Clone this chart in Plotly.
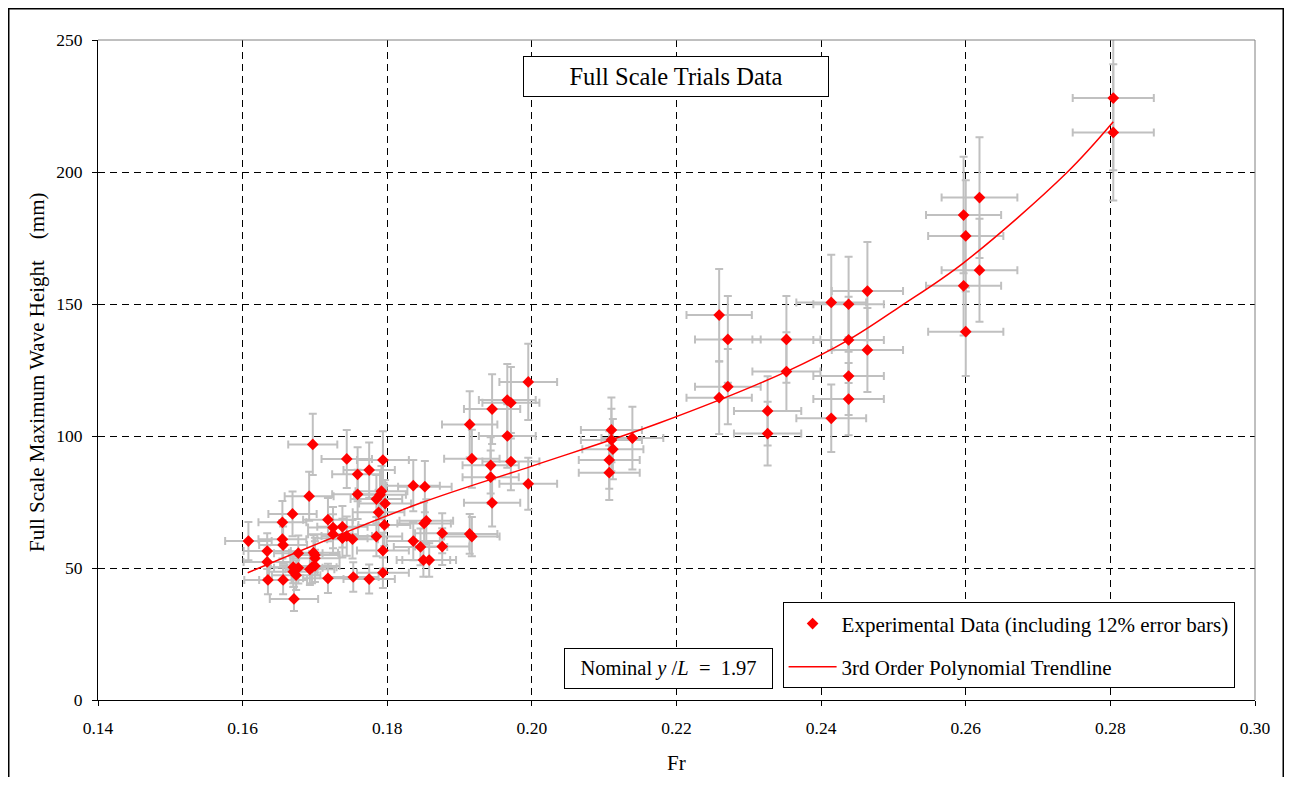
import plotly.graph_objects as go

# ---- data ----
fr = [
    0.2804, 0.2804,
    0.2619, 0.2597, 0.2600, 0.2619, 0.2597, 0.2600,
    0.2464, 0.2414, 0.2438, 0.2438, 0.2464, 0.2438, 0.2438, 0.2414,
    0.2259, 0.2271, 0.2352, 0.2352, 0.2271, 0.2259, 0.2326, 0.2326,
    0.2110, 0.2110, 0.2139, 0.2112, 0.2107, 0.2107,
    0.1995, 0.1966, 0.1971, 0.1945, 0.1914, 0.1966, 0.1917, 0.1943, 0.1971, 0.1943, 0.1995, 0.1945,
    0.1836, 0.1852, 0.1854, 0.1851, 0.1876, 0.1914, 0.1917, 0.1836, 0.1846, 0.1876, 0.1850, 0.1858,
    0.1794, 0.1792, 0.1790, 0.1785, 0.1797, 0.1788, 0.1796, 0.1785, 0.1794, 0.1794,
    0.1697, 0.1744, 0.1775, 0.1759, 0.1759, 0.1692,
    0.1718, 0.1725, 0.1738, 0.1725, 0.1738, 0.1744, 0.1752,
    0.1698, 0.1700, 0.1700,
    0.1669, 0.1655, 0.1608, 0.1655, 0.1656, 0.1634, 0.1677, 0.1634,
    0.1700, 0.1670, 0.1677, 0.1670, 0.1674, 0.1693, 0.1696,
    0.1635, 0.1656, 0.1718, 0.1671, 0.1753, 0.1775,
]
wave_height = [
    228.0, 215.0,
    190.3, 183.7, 175.8, 162.8, 156.9, 139.5,
    154.9, 150.6, 149.9, 136.4, 132.6, 122.7, 114.0, 106.7,
    145.8, 136.6, 136.6, 124.4, 118.7, 114.5, 109.5, 100.9,
    102.3, 98.5, 99.2, 95.0, 90.9, 86.1,
    120.5, 113.6, 112.6, 110.2, 104.4, 100.0, 91.4, 88.9, 90.3, 84.4, 81.9, 74.7,
    81.2, 80.8, 67.9, 66.9, 63.2, 62.9, 61.9, 60.2, 58.0, 58.1, 53.0, 53.0,
    90.9, 79.1, 77.7, 76.1, 74.4, 71.1, 66.3, 61.9, 56.6, 48.2,
    96.8, 91.3, 87.1, 85.5, 77.9, 77.2,
    68.3, 65.3, 65.6, 62.8, 61.3, 62.1, 60.9,
    55.8, 54.9, 53.7,
    70.5, 67.3, 60.2, 60.9, 58.7, 56.4, 55.6, 52.3,
    50.8, 50.3, 50.1, 48.6, 47.3, 49.5, 50.3,
    45.5, 45.5, 46.1, 38.3, 46.6, 45.8,
]

# trendline as drawn in the reference
trend_fr = [0.1607, 0.1845, 0.2000, 0.2177, 0.2352, 0.2438, 0.2509, 0.2597, 0.2740, 0.2804]
trend_height = [48.2, 74.5, 88.6, 105.0, 124.4, 136.4, 149.0, 165.6, 199.8, 219.0]

x_ticks = [0.14, 0.16, 0.18, 0.20, 0.22, 0.24, 0.26, 0.28, 0.30]
x_tick_labels = ["0.14", "0.16", "0.18", "0.20", "0.22", "0.24", "0.26", "0.28", "0.30"]
y_ticks = [0, 50, 100, 150, 200, 250]

FONT = "Liberation Serif"

fig = go.Figure()
fig.add_trace(go.Scatter(
    x=fr, y=wave_height, mode="markers",
    name="Experimental Data (including 12% error bars)",
    legendgroup="data",
    marker=dict(symbol="diamond", size=9, color="#FF0000", line=dict(width=0)),
    error_y=dict(type="percent", value=12, color="#C0C0C0", thickness=2, width=4),
    error_x=dict(type="percent", value=2, color="#C0C0C0", thickness=2, width=4),
))
fig.add_trace(go.Scatter(
    x=trend_fr, y=trend_height, mode="lines",
    name="3rd Order Polynomial Trendline",
    legendgroup="trend",
    line=dict(color="#FF0000", width=1.5, shape="spline", smoothing=1.0),
))

axis_common = dict(
    showgrid=True, gridcolor="black", gridwidth=1, griddash="7px,5px",
    showline=True, linecolor="black", linewidth=1,
    ticks="outside", ticklen=5, tickcolor="black", tickwidth=1,
    zeroline=False,
    tickfont=dict(family=FONT, size=17.5, color="black"),
)

fig.update_layout(
    width=1276, height=769,
    margin=dict(l=90, r=29, t=32, b=77),
    paper_bgcolor="white", plot_bgcolor="white",
    font=dict(family=FONT, color="black"),
    xaxis=dict(range=[0.14, 0.30], tickvals=x_ticks, ticktext=x_tick_labels,
               ticklabelstandoff=7, **axis_common),
    yaxis=dict(range=[0, 250], tickvals=y_ticks, ticklabelstandoff=6, **axis_common),
    showlegend=True,
    legend=dict(
        x=0.5917, y=0.1479, xanchor="left", yanchor="top",
        bordercolor="black", borderwidth=1, bgcolor="white",
        font=dict(family=FONT, size=21, color="black"),
        traceorder="grouped", tracegroupgap=13, itemwidth=48,
    ),
    shapes=[
        # plot-area right and top border (grey)
        dict(type="line", xref="paper", yref="paper", x0=1, x1=1, y0=0, y1=1,
             line=dict(color="#808080", width=1)),
        dict(type="line", xref="paper", yref="paper", x0=0, x1=1, y0=1, y1=1,
             line=dict(color="#808080", width=1)),
        # outer chart frame
        dict(type="rect", xref="paper", yref="paper",
             x0=-0.07714, x1=1.02442, y0=-0.2, y1=1.04735,
             line=dict(color="black", width=1.5)),
    ],
    annotations=[
        dict(text="Full Scale Trials Data", xref="paper", yref="paper",
             x=0.4998, y=0.9452, xanchor="center", yanchor="middle",
             showarrow=False, width=302, height=37,
             bordercolor="black", borderwidth=1, bgcolor="white",
             font=dict(family=FONT, size=24.5, color="black")),
        dict(text="Nominal <i>y</i> /<i>L</i>  =  1.97", xref="paper", yref="paper",
             x=0.4933, y=0.0474, xanchor="center", yanchor="middle",
             showarrow=False, width=205, height=37,
             bordercolor="black", borderwidth=1, bgcolor="white",
             font=dict(family=FONT, size=20.5, color="black")),
        dict(text="Full Scale Maximum Wave Height\u00a0\u00a0\u00a0\u00a0(mm)",
             xref="paper", yref="paper",
             x=-0.0527, y=0.497, xanchor="center", yanchor="middle",
             showarrow=False, textangle=-90,
             font=dict(family=FONT, size=21, color="black")),
        dict(text="Fr", xref="paper", yref="paper",
             x=0.5, y=-0.0955, xanchor="center", yanchor="middle", showarrow=False,
             font=dict(family=FONT, size=21, color="black")),
    ],
)

fig.write_html("out.html")
